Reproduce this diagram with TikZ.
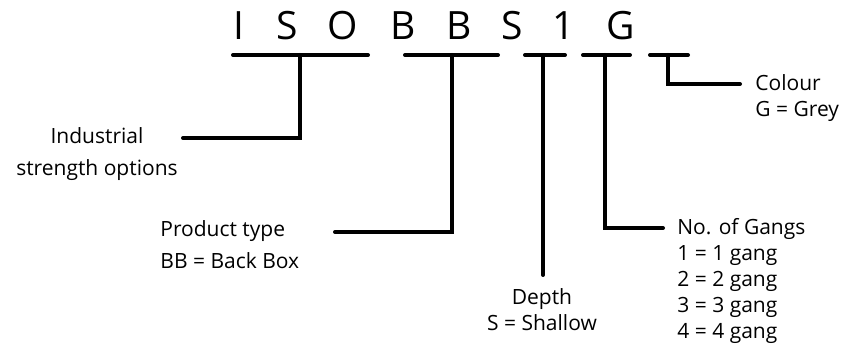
\documentclass[tikz,border=0pt]{standalone}
\usepackage{fontspec}
\setmainfont{Open Sans}
\usetikzlibrary{positioning}

\tikzset{
  letter/.style={font=\fontsize{19.5}{24}\selectfont, anchor=base, inner sep=0pt},
  info/.style={font=\fontsize{10.5}{13}\selectfont, inner sep=0pt},
  bar/.style={line width=2pt, line cap=round},
}

\begin{document}
\begin{tikzpicture}[x=0.5pt,y=0.5pt]
        \useasboundingbox (0,0) rectangle (848,348);
        % Product code letters
        \foreach \ch/\x [count=\i] in {I/239, S/287, O/343, B/403, B/459, S/512, 1/564, G/621} {
            \node[letter] (c\i) at (\x,308) {\ch};
        }
        % Underlines, with the point where each leader drops
        \foreach \n/\a/\b/\m in {1/233/368/300, 2/405/498/452, 3/525/565/543, 4/583/630/605, 5/650/688/668} {
            \coordinate (u\n a) at (\a,293);
            \coordinate (u\n b) at (\b,293);
            \coordinate (u\n m) at (\m,293);
            \draw[bar] (u\n a) -- (u\n b);
        }
        % Descriptions
        \node[info, align=center] (ind) at (97,194) {Industrial\\[3pt]strength options};
        \node[info, align=left, anchor=west] (prod) at (160,103) {Product type\\[3pt]BB = Back Box};
        \node[info, align=center] (dep) at (542,38.5) {Depth\\S = Shallow};
        \node[info, align=left, anchor=west] (gang) at (677,67.5) {No. of Gangs\\1 = 1 gang\\2 = 2 gang\\3 = 3 gang\\4 = 4 gang};
        \node[info, align=left, anchor=west] (col) at (755,249.5) {Colour\\G = Grey};
        % Leader ends
        \coordinate (ind-in) at (183,210);
        \coordinate (prod-in) at (335,116);
        \coordinate (dep-in) at (543,73);
        \coordinate (gang-in) at (663,120);
        \coordinate (col-in) at (740,264);
        % Leaders
        \draw[bar] (u1m) |- (ind-in);
        \draw[bar] (u2m) |- (prod-in);
        \draw[bar] (u3m) -- (dep-in);
        \draw[bar] (u4m) |- (gang-in);
        \draw[bar] (u5m) |- (col-in);
    \end{tikzpicture}
\end{document}
